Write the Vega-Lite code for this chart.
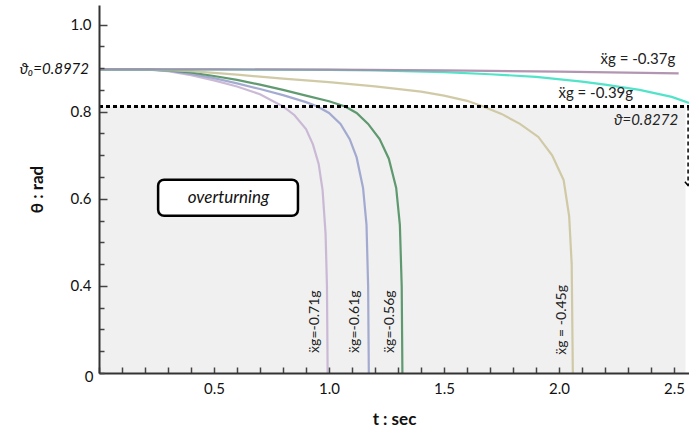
{
  "$schema": "https://vega.github.io/schema/vega-lite/v6.json",
  "width": 590,
  "height": 368,
  "autosize": {"type": "none"},
  "padding": {"left": 99, "top": 5, "right": 0, "bottom": 59},
  "background": "white",
  "config": {"view": {"stroke": null}, "font": "Lato", "axis": {"labelOverlap": false, "labelFlush": false}},
  "datasets": {
    "curves": [
      {"series": "-0.71g", "t": 0, "theta": 0.8972},
      {"series": "-0.71g", "t": 0.2, "theta": 0.8972},
      {"series": "-0.71g", "t": 0.3, "theta": 0.893},
      {"series": "-0.71g", "t": 0.4, "theta": 0.884},
      {"series": "-0.71g", "t": 0.5, "theta": 0.872},
      {"series": "-0.71g", "t": 0.6, "theta": 0.858},
      {"series": "-0.71g", "t": 0.7, "theta": 0.84},
      {"series": "-0.71g", "t": 0.8, "theta": 0.812},
      {"series": "-0.71g", "t": 0.85, "theta": 0.792},
      {"series": "-0.71g", "t": 0.9, "theta": 0.76},
      {"series": "-0.71g", "t": 0.93, "theta": 0.725},
      {"series": "-0.71g", "t": 0.955, "theta": 0.68},
      {"series": "-0.71g", "t": 0.972, "theta": 0.62},
      {"series": "-0.71g", "t": 0.985, "theta": 0.52},
      {"series": "-0.71g", "t": 0.991, "theta": 0.4},
      {"series": "-0.71g", "t": 0.994, "theta": 0.2},
      {"series": "-0.61g", "t": 0, "theta": 0.8972},
      {"series": "-0.61g", "t": 0.2, "theta": 0.8972},
      {"series": "-0.61g", "t": 0.3, "theta": 0.894},
      {"series": "-0.61g", "t": 0.4, "theta": 0.887},
      {"series": "-0.61g", "t": 0.5, "theta": 0.877},
      {"series": "-0.61g", "t": 0.6, "theta": 0.865},
      {"series": "-0.61g", "t": 0.7, "theta": 0.852},
      {"series": "-0.61g", "t": 0.8, "theta": 0.838},
      {"series": "-0.61g", "t": 0.9, "theta": 0.822},
      {"series": "-0.61g", "t": 0.95, "theta": 0.812},
      {"series": "-0.61g", "t": 1.0, "theta": 0.797},
      {"series": "-0.61g", "t": 1.05, "theta": 0.772},
      {"series": "-0.61g", "t": 1.09, "theta": 0.737},
      {"series": "-0.61g", "t": 1.12, "theta": 0.695},
      {"series": "-0.61g", "t": 1.148, "theta": 0.625},
      {"series": "-0.61g", "t": 1.163, "theta": 0.54},
      {"series": "-0.61g", "t": 1.17, "theta": 0.4},
      {"series": "-0.61g", "t": 1.173, "theta": 0.2},
      {"series": "-0.56g", "t": 0, "theta": 0.8972},
      {"series": "-0.56g", "t": 0.2, "theta": 0.8972},
      {"series": "-0.56g", "t": 0.3, "theta": 0.895},
      {"series": "-0.56g", "t": 0.4, "theta": 0.89},
      {"series": "-0.56g", "t": 0.5, "theta": 0.882},
      {"series": "-0.56g", "t": 0.6, "theta": 0.873},
      {"series": "-0.56g", "t": 0.7, "theta": 0.862},
      {"series": "-0.56g", "t": 0.8, "theta": 0.85},
      {"series": "-0.56g", "t": 0.9, "theta": 0.837},
      {"series": "-0.56g", "t": 1.0, "theta": 0.824},
      {"series": "-0.56g", "t": 1.07, "theta": 0.812},
      {"series": "-0.56g", "t": 1.12, "theta": 0.797},
      {"series": "-0.56g", "t": 1.17, "theta": 0.772},
      {"series": "-0.56g", "t": 1.22, "theta": 0.737},
      {"series": "-0.56g", "t": 1.26, "theta": 0.692},
      {"series": "-0.56g", "t": 1.292, "theta": 0.625},
      {"series": "-0.56g", "t": 1.308, "theta": 0.54},
      {"series": "-0.56g", "t": 1.316, "theta": 0.4},
      {"series": "-0.56g", "t": 1.319, "theta": 0.2},
      {"series": "-0.45g", "t": 0, "theta": 0.8972},
      {"series": "-0.45g", "t": 0.2, "theta": 0.8972},
      {"series": "-0.45g", "t": 0.4, "theta": 0.893},
      {"series": "-0.45g", "t": 0.6, "theta": 0.885},
      {"series": "-0.45g", "t": 0.8, "theta": 0.876},
      {"series": "-0.45g", "t": 1.0, "theta": 0.868},
      {"series": "-0.45g", "t": 1.2, "theta": 0.858},
      {"series": "-0.45g", "t": 1.4, "theta": 0.846},
      {"series": "-0.45g", "t": 1.5, "theta": 0.837},
      {"series": "-0.45g", "t": 1.6, "theta": 0.825},
      {"series": "-0.45g", "t": 1.67, "theta": 0.812},
      {"series": "-0.45g", "t": 1.75, "theta": 0.795},
      {"series": "-0.45g", "t": 1.83, "theta": 0.772},
      {"series": "-0.45g", "t": 1.91, "theta": 0.742},
      {"series": "-0.45g", "t": 1.97, "theta": 0.7},
      {"series": "-0.45g", "t": 2.02, "theta": 0.643},
      {"series": "-0.45g", "t": 2.044, "theta": 0.56},
      {"series": "-0.45g", "t": 2.055, "theta": 0.45},
      {"series": "-0.45g", "t": 2.06, "theta": 0.2},
      {"series": "-0.39g", "t": 0, "theta": 0.8972},
      {"series": "-0.39g", "t": 0.5, "theta": 0.8972},
      {"series": "-0.39g", "t": 1.0, "theta": 0.896},
      {"series": "-0.39g", "t": 1.2, "theta": 0.895},
      {"series": "-0.39g", "t": 1.5, "theta": 0.891},
      {"series": "-0.39g", "t": 1.7, "theta": 0.886},
      {"series": "-0.39g", "t": 1.9, "theta": 0.88},
      {"series": "-0.39g", "t": 2.1, "theta": 0.869},
      {"series": "-0.39g", "t": 2.2, "theta": 0.862},
      {"series": "-0.39g", "t": 2.35, "theta": 0.85},
      {"series": "-0.39g", "t": 2.49, "theta": 0.834},
      {"series": "-0.39g", "t": 2.565, "theta": 0.82},
      {"series": "-0.37g", "t": 0, "theta": 0.8972},
      {"series": "-0.37g", "t": 0.5, "theta": 0.8972},
      {"series": "-0.37g", "t": 1.0, "theta": 0.8965},
      {"series": "-0.37g", "t": 1.5, "theta": 0.895},
      {"series": "-0.37g", "t": 2.0, "theta": 0.892},
      {"series": "-0.37g", "t": 2.52, "theta": 0.888}
    ],
    "region": [{"t0": 0, "t1": 2.55, "y0": 0.2, "y1": 0.812}],
    "threshold": [{"t0": 0, "t1": 2.565, "theta": 0.812}],
    "arrow": [{"t": 2.561, "y0": 0.812, "y1": 0.632}],
    "box": [{"t0": 0.257, "t1": 0.865, "y0": 0.561, "y1": 0.644, "label": "overturning", "tc": 0.563, "yc": 0.6025}],
    "origin": [{"label": "0", "t": 0, "theta": 0.2}],
    "hlabels": [
      {"label": "ẍg = -0.37g", "t": 2.505, "theta": 0.92},
      {"label": "ẍg = -0.39g", "t": 2.322, "theta": 0.844}
    ],
    "ilabels": [
      {"label": "ϑ=0.8272", "t": 2.518, "theta": 0.782}
    ],
    "theta0": [{"label": "ϑ₀=0.8972", "t": 0, "theta": 0.8972}],
    "vlabels": [
      {"label": "ẍg=-0.71g", "t": 0.939, "theta": 0.318},
      {"label": "ẍg=-0.61g", "t": 1.113, "theta": 0.318},
      {"label": "ẍg=-0.56g", "t": 1.265, "theta": 0.318},
      {"label": "ẍg = -0.45g", "t": 2.013, "theta": 0.322}
    ]
  },
  "layer": [
    {
      "data": {"name": "region"},
      "mark": {"type": "rect", "color": "#f0f0f0"},
      "encoding": {
        "x": {"field": "t0", "type": "quantitative", "scale": {"domain": [0, 2.565], "nice": false, "zero": false},
          "axis": {
            "title": "t : sec",
            "titleFont": "Lato", "titleFontSize": 17, "titleFontWeight": "bold", "titleColor": "#111",
            "titlePadding": 15,
            "values": [0, 0.1, 0.2, 0.3, 0.4, 0.5, 0.6, 0.7, 0.8, 0.9, 1.0, 1.1, 1.2, 1.3, 1.4, 1.5, 1.6, 1.7, 1.8, 1.9, 2.0, 2.1, 2.2, 2.3, 2.4, 2.5],
            "tickCount": 200,
            "labelExpr": "indexof(['0.5','1.0','1.5','2.0','2.5'], format(datum.value, '.1f')) >= 0 ? format(datum.value, '.1f') : ''",
            "labelFont": "Lato", "labelFontSize": 15, "labelColor": "#111",
            "labelFlush": false, "labelOverlap": false,
            "labelPadding": 14,
            "tickSize": -6, "tickColor": "#444", "tickWidth": 1.5,
            "domainColor": "#333", "domainWidth": 2, "grid": false, "zindex": 1
          }},
        "x2": {"field": "t1"},
        "y": {"field": "y0", "type": "quantitative", "scale": {"domain": [0.2, 1.045], "nice": false, "zero": false},
          "axis": {
            "title": "θ : rad",
            "titleFont": "Lato", "titleFontSize": 17, "titleFontWeight": "bold", "titleColor": "#111",
            "titlePadding": 24,
            "values": [0.2, 0.25, 0.3, 0.35, 0.4, 0.45, 0.5, 0.55, 0.6, 0.65, 0.7, 0.75, 0.8, 0.85, 0.9, 0.95, 1.0],
            "tickCount": 200,
            "labelExpr": "indexof(['0.40','0.60','0.80','1.00'], format(datum.value, '.2f')) >= 0 ? format(datum.value, '.1f') : ''",
            "labelFont": "Lato", "labelFontSize": 15, "labelColor": "#111",
            "labelFlush": false, "labelOverlap": false,
            "labelPadding": 16,
            "tickSize": {"condition": {"test": "indexof(['0.40','0.60','0.80','1.00'], format(datum.value, '.2f')) >= 0", "value": -8}, "value": -5},
            "tickColor": "#444", "tickWidth": 1.5,
            "domainColor": "#333", "domainWidth": 2, "grid": false, "zindex": 1
          }},
        "y2": {"field": "y1"}
      }
    },
    {
      "data": {"name": "curves"},
      "mark": {"type": "line", "strokeWidth": 2.2, "opacity": 0.9},
      "encoding": {
        "x": {"field": "t", "type": "quantitative"},
        "y": {"field": "theta", "type": "quantitative"},
        "color": {"field": "series", "type": "nominal", "legend": null,
          "scale": {"domain": ["-0.37g", "-0.39g", "-0.45g", "-0.56g", "-0.61g", "-0.71g"],
                    "range": ["#a98aa8", "#3fe0c2", "#cbc49c", "#4f8f60", "#9aa2cb", "#c5b3d2"]}},
        "detail": {"field": "series"}
      }
    },
    {
      "data": {"name": "threshold"},
      "mark": {"type": "rule", "color": "#000", "strokeWidth": 3, "strokeDash": [4, 3]},
      "encoding": {
        "x": {"field": "t0", "type": "quantitative"},
        "x2": {"field": "t1"},
        "y": {"field": "theta", "type": "quantitative"}
      }
    },
    {
      "data": {"name": "arrow"},
      "mark": {"type": "rule", "color": "#000", "strokeWidth": 1.5, "strokeDash": [4, 3]},
      "encoding": {
        "x": {"field": "t", "type": "quantitative"},
        "y": {"field": "y0", "type": "quantitative"},
        "y2": {"field": "y1"}
      }
    },
    {
      "data": {"name": "arrow"},
      "mark": {"type": "point", "shape": "M-1,-1L0,0.2L1,-1", "filled": false, "stroke": "#000", "strokeWidth": 1.5, "size": 40, "opacity": 1},
      "encoding": {
        "x": {"field": "t", "type": "quantitative"},
        "y": {"field": "y1", "type": "quantitative"}
      }
    },
    {
      "data": {"name": "box"},
      "mark": {"type": "rect", "fill": "white", "stroke": "#000", "strokeWidth": 2.5, "cornerRadius": 6},
      "encoding": {
        "x": {"field": "t0", "type": "quantitative"},
        "x2": {"field": "t1"},
        "y": {"field": "y0", "type": "quantitative"},
        "y2": {"field": "y1"}
      }
    },
    {
      "data": {"name": "box"},
      "mark": {"type": "text", "font": "Lato", "fontSize": 17, "fontStyle": "italic", "color": "#111", "align": "center", "baseline": "middle"},
      "encoding": {
        "x": {"field": "tc", "type": "quantitative"},
        "y": {"field": "yc", "type": "quantitative"},
        "text": {"field": "label"}
      }
    },
    {
      "data": {"name": "origin"},
      "mark": {"type": "text", "font": "Lato", "fontSize": 15, "color": "#111", "align": "center", "baseline": "middle", "dx": -10, "dy": 4},
      "encoding": {
        "x": {"field": "t", "type": "quantitative"},
        "y": {"field": "theta", "type": "quantitative"},
        "text": {"field": "label"}
      }
    },
    {
      "data": {"name": "hlabels"},
      "mark": {"type": "text", "font": "Lato", "fontSize": 15, "color": "#222", "align": "right", "baseline": "middle"},
      "encoding": {
        "x": {"field": "t", "type": "quantitative"},
        "y": {"field": "theta", "type": "quantitative"},
        "text": {"field": "label"}
      }
    },
    {
      "data": {"name": "ilabels"},
      "mark": {"type": "text", "font": "Lato", "fontSize": 15, "fontStyle": "italic", "color": "#222", "align": "right", "baseline": "middle"},
      "encoding": {
        "x": {"field": "t", "type": "quantitative"},
        "y": {"field": "theta", "type": "quantitative"},
        "text": {"field": "label"}
      }
    },
    {
      "data": {"name": "theta0"},
      "mark": {"type": "text", "font": "Lato", "fontSize": 15, "fontStyle": "italic", "color": "#111", "align": "right", "baseline": "middle", "dx": -10},
      "encoding": {
        "x": {"field": "t", "type": "quantitative"},
        "y": {"field": "theta", "type": "quantitative"},
        "text": {"field": "label"}
      }
    },
    {
      "data": {"name": "vlabels"},
      "mark": {"type": "text", "font": "Lato", "fontSize": 14, "color": "#222", "align": "center", "baseline": "middle", "angle": 270},
      "encoding": {
        "x": {"field": "t", "type": "quantitative"},
        "y": {"field": "theta", "type": "quantitative"},
        "text": {"field": "label"}
      }
    }
  ]
}
